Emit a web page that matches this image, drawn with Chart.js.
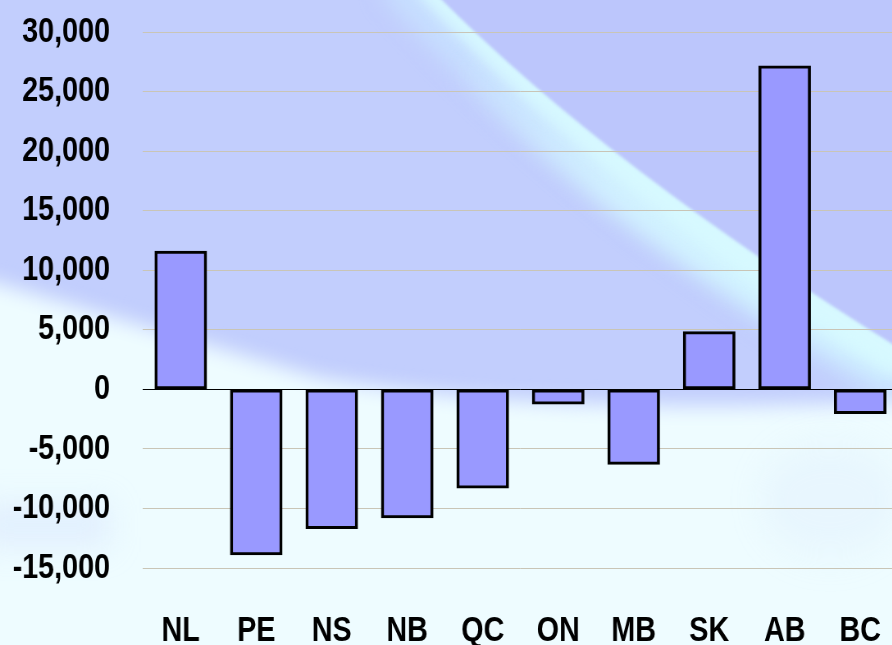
<!DOCTYPE html>
<html>
<head>
<meta charset="utf-8">
<script src="https://cdn.jsdelivr.net/npm/chart.js@4/dist/chart.umd.min.js"></script>
<style>
  html, body { margin: 0; padding: 0; overflow: hidden; background: #eefcff; }
  /* the canvas is drawn wide and squeezed sideways so the bold labels read as a narrow face */
  #wrap { position: absolute; left: 0; top: 0; width: 1095px; height: 645px; transform: scaleX(0.82); transform-origin: 0 0; }
</style>
</head>
<body>
<div id="wrap"><canvas id="balanceChart" width="1095" height="645"></canvas></div>
<script>
const squeeze = 0.82;

const provinces = ['NL', 'PE', 'NS', 'NB', 'QC', 'ON', 'MB', 'SK', 'AB', 'BC'];
const netMigration = [11600, -13900, -11700, -10800, -8300, -1250, -6300, 4850, 27150, -2050];
const yTicks = { min: -15000, max: 30000, step: 5000 };

const fontFamily = "'Liberation Sans', Arial, sans-serif";

// soft template backdrop: lavender top right, pale swoosh, near-white lower half
const backdrop = {
  id: 'backdrop',
  beforeDraw(chart) {
    const { ctx, height } = chart;
    ctx.save();
    ctx.scale(1 / squeeze, 1);   // work in on-screen x units
    ctx.fillStyle = '#c2cefd';
    ctx.fillRect(0, 0, 900, height);

    // pale band running down to the right, widening as it goes
    ctx.filter = 'blur(12px)';
    ctx.strokeStyle = 'rgba(200, 226, 255, 0.85)';
    ctx.lineWidth = 60;
    ctx.beginPath();
    ctx.moveTo(400, -30);
    ctx.quadraticCurveTo(590, 185, 910, 385);
    ctx.stroke();
    const wide = ctx.createLinearGradient(470, 40, 800, 300);
    wide.addColorStop(0, 'rgba(212, 246, 255, 0)');
    wide.addColorStop(0.5, 'rgba(212, 246, 255, 0.8)');
    wide.addColorStop(1, 'rgba(214, 250, 255, 0.9)');
    ctx.strokeStyle = wide;
    ctx.lineWidth = 70;
    ctx.beginPath();
    ctx.moveTo(470, 40);
    ctx.quadraticCurveTo(660, 230, 910, 352);
    ctx.stroke();
    ctx.filter = 'blur(7px)';
    ctx.strokeStyle = 'rgba(215, 250, 255, 0.9)';
    ctx.lineWidth = 30;
    ctx.beginPath();
    ctx.moveTo(425, -20);
    ctx.quadraticCurveTo(605, 175, 910, 365);
    ctx.stroke();

    // lavender corner with a crisp edge
    ctx.filter = 'blur(1.5px)';
    ctx.fillStyle = '#bcc6fc';
    ctx.beginPath();
    ctx.moveTo(432, -10);
    ctx.quadraticCurveTo(608, 169, 910, 355);
    ctx.lineTo(910, -10);
    ctx.closePath();
    ctx.fill();

    // bright lower region
    ctx.filter = 'blur(10px)';
    ctx.fillStyle = '#eefcff';
    ctx.beginPath();
    ctx.moveTo(-40, 272);
    ctx.quadraticCurveTo(150, 328, 320, 378);
    ctx.quadraticCurveTo(560, 418, 920, 400);
    ctx.lineTo(920, 700);
    ctx.lineTo(-40, 700);
    ctx.closePath();
    ctx.fill();

    // faint blue haze at the lower left and right
    ctx.filter = 'blur(18px)';
    ctx.fillStyle = 'rgba(200, 212, 252, 0.45)';
    ctx.fillRect(-20, 510, 130, 30);
    ctx.fillStyle = 'rgba(205, 222, 252, 0.18)';
    ctx.beginPath();
    ctx.ellipse(830, 500, 70, 55, 0, 0, Math.PI * 2);
    ctx.fill();
    ctx.restore();
  }
};

new Chart(document.getElementById('balanceChart'), {
  type: 'bar',
  data: {
    labels: provinces,
    datasets: [{
      data: netMigration,
      backgroundColor: '#9999ff',
      borderColor: '#000000',
      borderWidth: { left: 3 / squeeze, right: 3 / squeeze, top: 3, bottom: 3 },
      borderSkipped: false,
      barThickness: 52 / squeeze
    }]
  },
  options: {
    responsive: false,
    animation: false,
    layout: { padding: { top: 32, right: 0, bottom: 0, left: 0 } },
    plugins: { legend: { display: false }, tooltip: { enabled: false } },
    scales: {
      x: {
        grid: { display: false },
        border: { display: false },
        ticks: {
          color: '#000',
          font: { family: fontFamily, size: 35, weight: 'bold', lineHeight: '110px' },
          padding: 0,
          maxRotation: 0,
          autoSkip: false
        },
        afterFit: (scale) => { scale.height = 77; }
      },
      y: {
        min: yTicks.min,
        max: yTicks.max,
        grid: {
          // invisible tick marks keep the labels clear of the plot without extra top padding
          drawTicks: true,
          tickLength: 33 / squeeze,
          tickColor: 'rgba(0, 0, 0, 0)',
          color: (c) => c.tick && c.tick.value === 0 ? '#000000' : '#c9c5b6',
          lineWidth: 1
        },
        border: { display: false },
        ticks: {
          stepSize: yTicks.step,
          color: '#000',
          font: { family: fontFamily, size: 35, weight: 'bold' },
          padding: 0,
          callback: (v) => v.toLocaleString('en-US')
        },
        afterFit: (scale) => { scale.width = 143 / squeeze; }
      }
    }
  },
  plugins: [backdrop]
});
</script>
</body>
</html>
